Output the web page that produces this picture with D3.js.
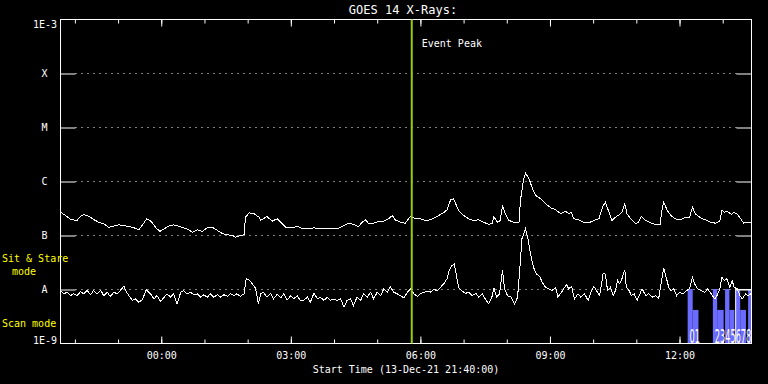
<!DOCTYPE html>
<html>
<head>
<meta charset="utf-8">
<script src="https://cdn.jsdelivr.net/npm/d3@7"></script>
<style>
  body { margin: 0; background: #000; }
  svg { display: block; }
  text { font-family: "DejaVu Sans Mono", monospace; fill: #fff; font-size: 10px; }
</style>
</head>
<body>
<div id="chart"></div>
<script>
// GOES 14 X-ray flux, minutes after start time vs W/m^2
const startTime = new Date(2021, 11, 13, 21, 40, 0);
const spanMinutes = 960;
const peakMinute = 488;

const classLevels = [1e-4, 1e-5, 1e-6, 1e-7, 1e-8];
const classNames = ["X", "M", "C", "B", "A"];

// long channel (1-8 A)
const longChannel = [
  [0,2.70e-7],[7,2.35e-7],[14,1.98e-7],[23,1.90e-7],[28,2.28e-7],[32,2.45e-7],[39,2.28e-7],[46,1.98e-7],
  [53,1.76e-7],[60,1.65e-7],[67,1.42e-7],[74,1.49e-7],[81,1.58e-7],[88,1.53e-7],[95,1.47e-7],[102,1.39e-7],
  [109,1.28e-7],[115,1.65e-7],[120,2.04e-7],[126,1.82e-7],[132,1.42e-7],[138,1.19e-7],[144,1.33e-7],[150,1.49e-7],
  [157,1.58e-7],[164,1.49e-7],[171,1.39e-7],[178,1.28e-7],[183,1.15e-7],[190,1.28e-7],[197,1.19e-7],[204,1.39e-7],
  [211,1.42e-7],[218,1.24e-7],[225,1.08e-7],[232,1.03e-7],[239,1.00e-7],[243,9.3e-8],[250,1.00e-7],[255,1.03e-7],
  [257,2.18e-7],[262,2.63e-7],[269,2.52e-7],[276,2.18e-7],[278,1.90e-7],[287,2.25e-7],[294,1.84e-7],[301,2.04e-7],
  [308,1.65e-7],[313,1.42e-7],[322,1.39e-7],[329,1.49e-7],[336,1.33e-7],[345,1.33e-7],[352,1.39e-7],[359,1.33e-7],
  [368,1.37e-7],[377,1.33e-7],[387,1.37e-7],[394,1.53e-7],[401,1.69e-7],[407,1.60e-7],[414,1.47e-7],[419,1.76e-7],
  [424,1.95e-7],[428,1.65e-7],[435,1.69e-7],[442,1.82e-7],[449,1.84e-7],[456,2.04e-7],[461,2.35e-7],[465,1.95e-7],
  [472,1.76e-7],[479,1.69e-7],[486,2.25e-7],[493,2.04e-7],[500,2.04e-7],[507,1.90e-7],[514,1.95e-7],[521,2.18e-7],
  [528,2.45e-7],[533,2.70e-7],[537,2.99e-7],[542,4.58e-7],[546,4.78e-7],[549,3.86e-7],[553,2.90e-7],[560,2.35e-7],
  [567,2.04e-7],[574,1.90e-7],[581,1.95e-7],[588,1.76e-7],[595,1.60e-7],[600,1.69e-7],[602,2.25e-7],[607,1.76e-7],
  [611,1.90e-7],[614,3.59e-7],[618,2.52e-7],[623,1.90e-7],[630,1.76e-7],[637,1.76e-7],[639,4.45e-7],[643,1.04e-6],
  [646,1.42e-6],[651,1.12e-6],[655,7.84e-7],[660,5.51e-7],[667,4.78e-7],[674,3.86e-7],[681,3.26e-7],[688,2.99e-7],
  [695,2.52e-7],[702,2.82e-7],[706,2.52e-7],[710,2.70e-7],[713,2.04e-7],[720,1.95e-7],[727,1.76e-7],[734,1.72e-7],
  [741,1.90e-7],[748,2.04e-7],[753,3.34e-7],[757,4.14e-7],[762,2.70e-7],[766,1.90e-7],[771,2.18e-7],[776,2.42e-7],
  [780,2.70e-7],[784,3.86e-7],[787,2.52e-7],[792,2.04e-7],[799,1.65e-7],[803,1.76e-7],[807,2.25e-7],[813,1.90e-7],
  [820,1.72e-7],[827,1.60e-7],[833,1.60e-7],[835,2.70e-7],[838,4.14e-7],[843,2.90e-7],[848,2.35e-7],[854,2.04e-7],
  [861,1.95e-7],[868,2.18e-7],[874,2.18e-7],[878,3.34e-7],[882,2.52e-7],[889,2.13e-7],[896,1.95e-7],[903,1.76e-7],
  [910,1.69e-7],[916,1.84e-7],[919,2.99e-7],[922,2.70e-7],[926,2.82e-7],[932,2.45e-7],[935,2.70e-7],[940,2.52e-7],
  [945,2.04e-7],[949,1.69e-7],[954,1.76e-7],[959,1.72e-7]
];

// short channel (0.5-4 A)
const shortChannel = [
  [0,9.6e-9],[5,8.3e-9],[9,8.9e-9],[14,7.7e-9],[18,8.3e-9],[23,7.7e-9],[28,9.2e-9],[32,8.3e-9],[37,9.6e-9],
  [42,8.0e-9],[46,9.6e-9],[51,8.3e-9],[56,9.6e-9],[60,7.7e-9],[65,8.9e-9],[69,7.4e-9],[74,8.9e-9],[79,8.3e-9],
  [83,9.6e-9],[88,1.15e-8],[92,8.9e-9],[95,7.7e-9],[100,6.3e-9],[104,6.7e-9],[109,5.8e-9],[114,6.5e-9],[119,1.0e-8],
  [125,8.3e-9],[130,6.7e-9],[134,7.7e-9],[139,6.0e-9],[144,7.2e-9],[148,8.3e-9],[153,7.2e-9],[157,8.3e-9],[162,5.4e-9],
  [167,8.9e-9],[171,9.6e-9],[176,8.3e-9],[181,8.9e-9],[185,8.0e-9],[190,8.3e-9],[195,7.2e-9],[199,8.0e-9],[204,7.2e-9],
  [208,8.3e-9],[213,7.2e-9],[218,8.0e-9],[222,7.2e-9],[227,8.0e-9],[232,7.5e-9],[236,8.3e-9],[241,7.7e-9],[245,8.3e-9],
  [250,7.5e-9],[255,8.3e-9],[258,1.58e-8],[263,1.47e-8],[268,1.19e-8],[271,1.06e-8],[275,5.4e-9],[278,8.3e-9],[282,8.9e-9],
  [287,7.2e-9],[292,8.5e-9],[296,6.7e-9],[301,8.1e-9],[306,7.0e-9],[310,8.3e-9],[315,6.4e-9],[320,7.7e-9],[324,6.7e-9],
  [329,7.7e-9],[333,6.3e-9],[338,6.3e-9],[343,7.2e-9],[347,5.8e-9],[352,8.5e-9],[357,6.7e-9],[361,7.2e-9],[366,6.3e-9],
  [371,7.2e-9],[375,6.3e-9],[380,6.7e-9],[384,6.3e-9],[389,6.7e-9],[394,4.7e-9],[398,6.3e-9],[403,6.7e-9],[407,5.05e-9],
  [412,7.2e-9],[417,6.3e-9],[421,8.3e-9],[426,7.2e-9],[431,8.9e-9],[435,6.7e-9],[440,8.9e-9],[445,7.7e-9],[449,1.03e-8],
  [454,8.9e-9],[458,1.14e-8],[463,8.9e-9],[468,8.3e-9],[472,7.7e-9],[477,7.0e-9],[482,8.9e-9],[486,1.03e-8],[491,8.3e-9],
  [496,7.4e-9],[500,8.3e-9],[505,8.9e-9],[509,9.3e-9],[514,8.9e-9],[519,1.03e-8],[523,9.3e-9],[528,1.10e-8],[533,1.31e-8],
  [537,1.58e-8],[540,2.25e-8],[544,2.78e-8],[547,2.99e-8],[550,1.82e-8],[553,1.10e-8],[558,9.3e-9],[563,8.5e-9],[567,8.9e-9],
  [572,7.7e-9],[577,8.5e-9],[581,7.2e-9],[586,8.3e-9],[590,6.7e-9],[595,5.4e-9],[600,7.7e-9],[602,1.07e-8],[606,7.2e-9],
  [610,8.3e-9],[614,2.25e-8],[617,1.03e-8],[621,7.7e-9],[626,7.2e-9],[631,5.4e-9],[635,7.2e-9],[639,3.44e-8],[641,8.67e-8],
  [646,1.33e-7],[649,9.3e-8],[653,4.58e-8],[657,2.59e-8],[661,1.95e-8],[666,1.74e-8],[669,1.37e-8],[674,1.10e-8],[678,1.03e-8],
  [683,9.6e-9],[688,1.10e-8],[691,7.2e-9],[696,8.9e-9],[699,1.03e-8],[703,1.24e-8],[706,1.03e-8],[710,1.14e-8],[714,6.7e-9],
  [719,8.3e-9],[723,7.2e-9],[728,8.3e-9],[733,6.3e-9],[737,8.9e-9],[741,1.14e-8],[746,8.9e-9],[749,7.7e-9],[754,2.02e-8],
  [757,1.90e-8],[760,9.6e-9],[764,1.10e-8],[768,7.7e-9],[771,9.6e-9],[774,1.47e-8],[777,1.27e-8],[780,1.58e-8],[784,2.32e-8],
  [786,1.10e-8],[790,9.6e-9],[793,7.7e-9],[797,8.3e-9],[801,6.3e-9],[805,8.3e-9],[808,1.03e-8],[813,7.7e-9],[817,8.3e-9],
  [822,7.2e-9],[827,7.7e-9],[831,6.7e-9],[835,1.47e-8],[838,2.52e-8],[842,1.58e-8],[845,1.10e-8],[848,9.6e-9],[852,1.03e-8],
  [856,7.7e-9],[860,8.9e-9],[865,8.3e-9],[870,9.6e-9],[874,1.03e-8],[878,1.69e-8],[881,1.27e-8],[885,1.03e-8],[890,9.6e-9],
  [895,8.9e-9],[899,1.03e-8],[904,8.3e-9],[909,6.7e-9],[912,7.7e-9],[916,1.03e-8],[919,1.69e-8],[922,1.47e-8],[926,1.58e-8],
  [930,1.10e-8],[933,1.47e-8],[936,1.10e-8],[940,1.03e-8],[944,7.7e-9],[947,6.7e-9],[952,8.3e-9],[955,7.7e-9],[959,8.3e-9]
];

// observing mode blocks: start minute, end minute, level
const modeStart = [872, 879, 907, 913, 924, 930, 939, 945, 956];
const modeEnd   = [879, 887, 913, 922, 930, 937, 945, 953, 960];
const modeLevel = [1e-8, 4.1e-9, 1e-8, 4.1e-9, 1e-8, 4.1e-9, 1e-8, 4.1e-9, 1e-8];
const boxStart = 938, boxEnd = 960;

const digitGroups = ["01", "2345678"];
const digitMinute = [874, 909];

const width = 768, height = 384;
const margin = { top: 19, right: 17, bottom: 41, left: 60 };

const svg = d3.select("#chart").append("svg")
  .attr("width", width).attr("height", height)
  .style("background", "#000");

const minuteToDate = m => new Date(startTime.getTime() + m * 60000);

const x = d3.scaleTime()
  .domain([startTime, minuteToDate(spanMinutes)])
  .range([margin.left + 0.5, width - margin.right + 0.5]);
const y = d3.scaleLog()
  .domain([1e-9, 1e-3])
  .range([height - margin.bottom + 0.5, margin.top + 0.5]);

const x0 = x.range()[0], x1 = x.range()[1];
const yTop = y(1e-3), yBot = y(1e-9);

// mode bars
svg.append("g").selectAll("rect")
  .data(modeStart.map((s, i) => ({ s, e: modeEnd[i], v: modeLevel[i] })))
  .join("rect")
  .attr("x", d => x(minuteToDate(d.s)) - 0.5)
  .attr("width", d => x(minuteToDate(d.e)) - x(minuteToDate(d.s)))
  .attr("y", d => y(d.v) - 0.5)
  .attr("height", d => yBot - y(d.v))
  .attr("fill", "#6b6bff");

svg.append("rect")
  .attr("x", x(minuteToDate(boxStart)))
  .attr("y", y(1e-8))
  .attr("width", x(minuteToDate(boxEnd)) - x(minuteToDate(boxStart)))
  .attr("height", yBot - y(1e-8))
  .attr("fill", "none")
  .attr("stroke", "#fff");

// dotted class lines
svg.append("g").selectAll("line")
  .data(classLevels)
  .join("line")
  .attr("x1", x0 + 15).attr("x2", x1 - 14)
  .attr("y1", d => y(d)).attr("y2", d => y(d))
  .attr("stroke", "#fff")
  .attr("stroke-dasharray", "1,5");

// axes
const hourTicks = d3.timeHour.every(1);
const majorTicks = d3.timeHour.every(3);

function styleAxis(g) {
  g.select(".domain").remove();
  g.selectAll("line").attr("stroke", "#fff");
  g.selectAll("text").attr("fill", "#fff").style("font-size", "10px")
    .style("font-family", "'DejaVu Sans Mono', monospace");
}

svg.append("g").attr("transform", `translate(0,${yBot})`)
  .call(d3.axisBottom(x).ticks(hourTicks).tickSizeInner(-4).tickFormat(""))
  .call(styleAxis);
svg.append("g").attr("transform", `translate(0,${yBot})`)
  .call(d3.axisBottom(x).ticks(majorTicks).tickSizeInner(-7).tickPadding(8)
    .tickFormat(d3.timeFormat("%H:%M")))
  .call(styleAxis);
svg.append("g").attr("transform", `translate(0,${yTop})`)
  .call(d3.axisTop(x).ticks(hourTicks).tickSizeInner(-4).tickFormat(""))
  .call(styleAxis);
svg.append("g").attr("transform", `translate(0,${yTop})`)
  .call(d3.axisTop(x).ticks(majorTicks).tickSizeInner(-7).tickFormat(""))
  .call(styleAxis);

svg.append("g").attr("transform", `translate(${x0},0)`)
  .call(d3.axisLeft(y).tickValues(classLevels).tickSizeInner(-15).tickPadding(13)
    .tickFormat((d, i) => classNames[i]))
  .call(styleAxis);
svg.append("g").attr("transform", `translate(${x1},0)`)
  .call(d3.axisRight(y).tickValues(classLevels).tickSizeInner(-15).tickFormat(""))
  .call(styleAxis);

// frame
svg.append("rect")
  .attr("x", x0).attr("y", yTop)
  .attr("width", x1 - x0).attr("height", yBot - yTop)
  .attr("fill", "none").attr("stroke", "#fff");

// flux curves
const line = d3.line()
  .x(d => x(minuteToDate(d[0])))
  .y(d => y(d[1]));

[longChannel, shortChannel].forEach(series => {
  svg.append("path")
    .datum(series)
    .attr("d", line)
    .attr("fill", "none")
    .attr("stroke", "#fff")
    .attr("stroke-width", 1)
    .attr("shape-rendering", "crispEdges");
});

// event peak marker
const peakX = x(minuteToDate(peakMinute));
svg.append("line")
  .attr("x1", peakX).attr("x2", peakX)
  .attr("y1", yTop).attr("y2", yBot)
  .attr("stroke", "#9acd00").attr("stroke-width", 2);
svg.append("text")
  .attr("x", peakX + 10).attr("y", 46.5)
  .text("Event Peak");

// mode digits, tall and narrow
svg.append("g").selectAll("text")
  .data(digitGroups)
  .join("text")
  .attr("transform", (d, i) => `translate(${x(minuteToDate(digitMinute[i]))},${yBot - 1}) scale(0.41,1)`)
  .style("font-size", "20px")
  .style("font-family", "'DejaVu Sans', sans-serif")
  .text(d => d);

// title and labels
svg.append("text")
  .attr("x", (x0 + x1) / 2 - 3).attr("y", 13.5)
  .attr("text-anchor", "middle")
  .style("font-size", "12px")
  .text("GOES 14 X-Rays:");

svg.append("text")
  .attr("x", (x0 + x1) / 2).attr("y", 373)
  .attr("text-anchor", "middle")
  .text("Start Time (" + d3.timeFormat("%d-%b-%y %H:%M:%S")(startTime) + ")");

svg.append("text").attr("x", 57).attr("y", yTop + 8)
  .attr("text-anchor", "end").text("1E-3");
svg.append("text").attr("x", 57).attr("y", yBot)
  .attr("text-anchor", "end").text("1E-9");

const modeLabels = [["Sit & Stare", 2, 262, "start"], ["mode", 24, 275, "middle"], ["Scan mode", 2, 327, "start"]];
modeLabels.forEach(([t, lx, ly, anchor]) => {
  svg.append("text")
    .attr("x", lx).attr("y", ly)
    .attr("text-anchor", anchor)
    .style("fill", "#ffff00")
    .text(t);
});
</script>
</body>
</html>
